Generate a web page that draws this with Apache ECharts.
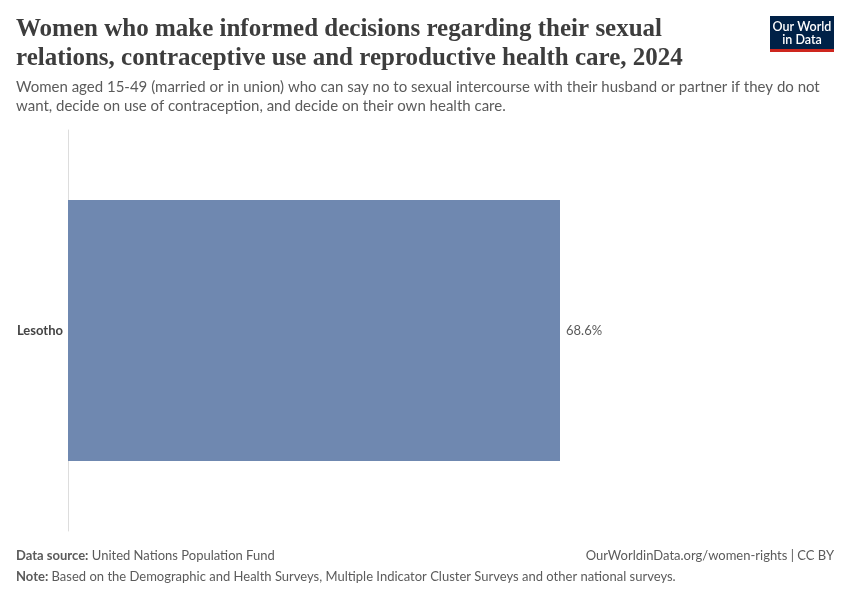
<!DOCTYPE html>
<html><head><meta charset="utf-8">
<script src="https://cdn.jsdelivr.net/npm/echarts@6/dist/echarts.min.js"></script>
<style>html,body{margin:0;padding:0;background:#fff}#c{width:850px;height:600px}</style>
</head><body><div id="c"></div>
<script>
const categories = ["Lesotho"];
const values = [68.6];
const titleText = "Women who make informed decisions regarding their sexual\nrelations, contraceptive use and reproductive health care, 2024";
const subtitleText = "Women aged 15-49 (married or in union) who can say no to sexual intercourse with their husband or partner if they do not\nwant, decide on use of contraception, and decide on their own health care.";

const chart = echarts.init(document.getElementById('c'), null, {renderer: 'canvas'});
chart.setOption({
  backgroundColor: '#fff',
  animation: false,
  title: [{
    text: titleText,
    left: 16, top: 15, padding: 0,
    textStyle: {fontFamily: 'Liberation Serif', fontSize: 25, fontWeight: 'bold', color: '#3d3d3d', lineHeight: 29}
  }, {
    text: subtitleText,
    left: 16, top: 78, padding: 0,
    textStyle: {fontFamily: 'Lato', fontSize: 15, fontWeight: 'normal', color: '#5b5b5b', lineHeight: 19}
  }],
  grid: {left: 68, right: 290, top: 130, bottom: 69, containLabel: false},
  xAxis: {type: 'value', min: 0, max: 68.6, show: false},
  yAxis: {
    type: 'category', data: categories,
    axisLine: {show: true, lineStyle: {color: '#ddd', width: 1}},
    axisTick: {show: false},
    axisLabel: {fontFamily: 'Lato', fontSize: 13, color: '#444', fontWeight: 'bold', margin: 5}
  },
  series: [{
    type: 'bar', data: values, barWidth: 261,
    itemStyle: {color: '#6f88b0'},
    label: {show: true, position: 'right', distance: 6, formatter: p => p.value + '%', fontFamily: 'Lato', fontSize: 13, color: '#5b5b5b'}
  }],
  graphic: [
    {type: 'rect', shape: {x: 770, y: 16, width: 64, height: 34}, style: {fill: '#002147'}},
    {type: 'rect', shape: {x: 770, y: 49, width: 64, height: 3}, style: {fill: '#ce261e'}},
    {type: 'text', x: 802, y: 20, style: {text: 'Our World\nin Data', fill: '#fff', font: '600 12.5px Lato', textAlign: 'center', lineHeight: 13}},
    {type: 'text', x: 16, y: 549, style: {rich: {b: {font: 'bold 13px Lato', fill: '#5b5b5b'}, n: {font: '13px Lato', fill: '#5b5b5b'}}, text: '{b|Data source:} {n|United Nations Population Fund}'}},
    {type: 'text', x: 834, y: 549, style: {text: 'OurWorldinData.org/women-rights | CC BY', font: '13px Lato', fill: '#5b5b5b', textAlign: 'right'}},
    {type: 'text', x: 16, y: 570, style: {rich: {b: {font: 'bold 13px Lato', fill: '#5b5b5b'}, n: {font: '13px Lato', fill: '#5b5b5b'}}, text: '{b|Note:} {n|Based on the Demographic and Health Surveys, Multiple Indicator Cluster Surveys and other national surveys.}'}}
  ]
});
</script></body></html>
